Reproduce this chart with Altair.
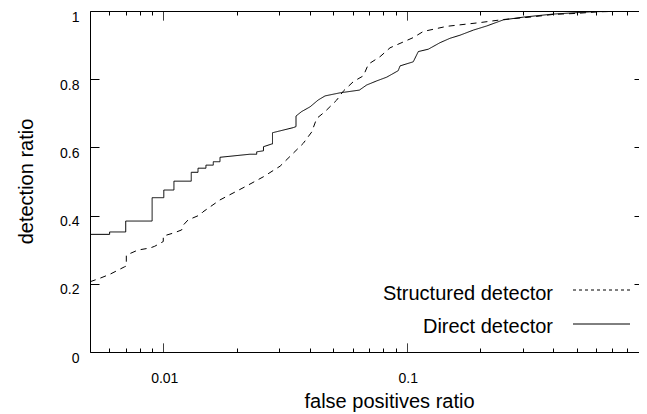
import altair as alt
import pandas as pd

# ---- data ----
series_names = ["Structured detector", "Direct detector"]

struct_x = [0.005, 0.00548, 0.00604, 0.00694, 0.00705, 0.00705, 0.00787, 0.00882, 0.00922, 0.0100,
            0.0100, 0.01114, 0.0119, 0.01208, 0.01263, 0.01415, 0.01456, 0.0171, 0.0220, 0.0258,
            0.0302, 0.0342, 0.0376, 0.0407, 0.0427, 0.0462, 0.0516, 0.0549, 0.0604, 0.0664,
            0.0696, 0.0777, 0.0854, 0.0939, 0.1064, 0.117, 0.146, 0.200, 0.2495, 0.331,
            0.400, 0.499, 0.623, 1.0]
struct_y = [0.206, 0.216, 0.228, 0.250, 0.252, 0.284, 0.299, 0.305, 0.310, 0.324,
            0.340, 0.350, 0.358, 0.372, 0.387, 0.402, 0.411, 0.446, 0.487, 0.514,
            0.545, 0.583, 0.612, 0.645, 0.685, 0.705, 0.739, 0.765, 0.793, 0.810,
            0.844, 0.866, 0.892, 0.905, 0.922, 0.940, 0.955, 0.966, 0.975, 0.983,
            0.990, 0.993, 0.998, 1.0]

direct_x = [0.005, 0.00602, 0.00602, 0.00701, 0.00701, 0.0090, 0.0090, 0.01005, 0.01005, 0.01106,
            0.01106, 0.01303, 0.01303, 0.01389, 0.01389, 0.01497, 0.01497, 0.01605, 0.01605, 0.0171,
            0.0171, 0.0227, 0.0242, 0.0242, 0.0258, 0.0258, 0.0279, 0.0281, 0.0281, 0.0342,
            0.0351, 0.0351, 0.0370, 0.0401, 0.0433, 0.0462, 0.0484, 0.0532, 0.0639, 0.0685,
            0.0753, 0.0828, 0.0923, 0.0939, 0.1064, 0.1116, 0.1227, 0.137, 0.1507, 0.1656,
            0.1879, 0.213, 0.2495, 0.3013, 0.400, 0.584, 1.0]
direct_y = [0.345, 0.345, 0.352, 0.352, 0.384, 0.384, 0.4525, 0.4525, 0.475, 0.475,
            0.501, 0.501, 0.527, 0.527, 0.539, 0.539, 0.548, 0.548, 0.558, 0.558,
            0.571, 0.580, 0.580, 0.587, 0.590, 0.602, 0.610, 0.610, 0.643, 0.658,
            0.661, 0.692, 0.705, 0.719, 0.739, 0.751, 0.754, 0.760, 0.768, 0.783,
            0.795, 0.806, 0.825, 0.839, 0.851, 0.881, 0.888, 0.907, 0.920, 0.929,
            0.944, 0.956, 0.974, 0.982, 0.991, 0.998, 1.0]

x_major = [0.01, 0.1]
x_major_labels = ["0.01", "0.1"]
x_minor = [0.006, 0.007, 0.008, 0.009,
           0.02, 0.03, 0.04, 0.05, 0.06, 0.07, 0.08, 0.09,
           0.2, 0.3, 0.4, 0.5, 0.6, 0.7, 0.8, 0.9]
y_ticks = [0, 0.2, 0.4, 0.6, 0.8, 1]
x_domain = [0.005, 0.9003]   # visible part of the 0.005 .. 1 log axis
y_domain = [0, 1]

x_title = "false positives ratio"
y_title = "detection ratio"

# ---- build table ----
rows = []
for name, xs, ys in [(series_names[0], struct_x, struct_y), (series_names[1], direct_x, direct_y)]:
    for i, (xv, yv) in enumerate(zip(xs, ys, strict=True)):
        rows.append({"series": name, "fpr": xv, "det": yv, "i": i})
df = pd.DataFrame(rows)

FONT = "Liberation Sans"
x_ticks = sorted(x_major + x_minor)
major_test = " || ".join(f"datum.value == {v}" for v in x_major)
tick_dash = {"condition": {"test": major_test, "value": [1, 0]}, "value": [0, 5, 4]}
label_expr = ""
for v, lab in zip(x_major, x_major_labels):
    label_expr += f"datum.value == {v} ? '{lab}' : "
label_expr += "''"

x_scale = alt.Scale(type="log", domain=x_domain, nice=False)
y_scale = alt.Scale(domain=y_domain, nice=False, zero=False)

base = alt.Chart(df)

lines = base.mark_line(clip=True, strokeWidth=1, color="black").encode(
    x=alt.X("fpr:Q", scale=x_scale, axis=alt.Axis(
        orient="bottom", values=x_ticks, offset=-9, domain=False, grid=False,
        tickSize=9, tickColor="black", tickWidth=1, tickDash=tick_dash,
        labelExpr=label_expr, labelFont=FONT, labelFontSize=14, labelColor="black",
        labelBaseline="alphabetic", labelPadding=30, labelOffset=1,
        labelOverlap=False, labelFlush=False,
        title=x_title, titleFont=FONT, titleFontSize=20, titleFontWeight="normal",
        titleColor="black", titleX=299, titleY=64, titleBaseline="alphabetic",
        titleAlign="center")),
    y=alt.Y("det:Q", scale=y_scale, axis=alt.Axis(
        orient="left", values=y_ticks, offset=-9, domain=False, grid=False,
        tickSize=9, tickColor="black", tickWidth=1, format="~g",
        labelFont=FONT, labelFontSize=14, labelColor="black",
        labelBaseline="alphabetic", labelOffset=10, labelPadding=11,
        labelOverlap=False, labelFlush=False,
        title=y_title, titleFont=FONT, titleFontSize=20, titleFontWeight="normal",
        titleColor="black", titleX=-67, titleY=170, titleBaseline="alphabetic",
        titleAlign="center", titleAngle=270)),
    strokeDash=alt.StrokeDash("series:N", scale=alt.Scale(domain=series_names,
                              range=[[6, 5], [1, 0]]), legend=None),
    order=alt.Order("i:Q"),
)

# mirrored inward ticks on top and right
mirror = base.mark_line(clip=True, strokeOpacity=0).encode(
    x=alt.X("fpr:Q", scale=x_scale, axis=alt.Axis(
        orient="top", values=x_ticks, offset=-9, domain=False, grid=False, labels=False,
        tickSize=9, tickColor="black", tickWidth=1, tickDash=tick_dash, title=None)),
    y=alt.Y("det:Q", scale=y_scale, axis=alt.Axis(
        orient="right", values=y_ticks, offset=-5, domain=False, grid=False, labels=False,
        tickSize=5, tickColor="black", tickWidth=1, title=None)),
    detail="series:N",
    order=alt.Order("i:Q"),
)

# border lines (bottom + left)
border_bl = base.mark_line(clip=True, strokeOpacity=0).encode(
    x=alt.X("fpr:Q", scale=x_scale, axis=alt.Axis(
        orient="bottom", domain=True, domainColor="black", domainWidth=1,
        ticks=False, labels=False, grid=False, title=None)),
    y=alt.Y("det:Q", scale=y_scale, axis=alt.Axis(
        orient="left", domain=True, domainColor="black", domainWidth=1,
        ticks=False, labels=False, grid=False, title=None)),
    detail="series:N",
)
# border line (top)
border_t = base.mark_line(clip=True, strokeOpacity=0).encode(
    x=alt.X("fpr:Q", scale=x_scale, axis=alt.Axis(
        orient="top", domain=True, domainColor="black", domainWidth=1,
        ticks=False, labels=False, grid=False, title=None)),
    y=alt.Y("det:Q", scale=y_scale, axis=None),
    detail="series:N",
)

# ---- legend (gnuplot style: label left, sample right) ----
leg_layers = []
leg_dash = [[3, 3], [1, 0]]
for k, name in enumerate(series_names):
    one = pd.DataFrame({"label": [name]})
    leg_layers.append(
        alt.Chart(one).mark_text(align="right", baseline="alphabetic", font=FONT,
                                 fontSize=20, color="black").encode(
            text="label:N", x=alt.value(463), y=alt.value(289 + 33.3 * k)))
    leg_layers.append(
        alt.Chart(one).mark_rule(color="black", strokeWidth=1, strokeDash=leg_dash[k]).encode(
            x=alt.value(483), x2=alt.value(540), y=alt.value(279 + 34 * k)))

chart = alt.layer(lines, mirror, border_bl, border_t, *leg_layers).resolve_axis(
    x="independent", y="independent"
).properties(
    width=549, height=341,
    autosize=alt.AutoSizeParams(type="none"),
    padding={"left": 82, "top": 3, "right": 0, "bottom": 60},
).configure_view(strokeWidth=0).configure(background="white")

chart.save("out.html", embed_options={"renderer": "svg", "actions": False})
